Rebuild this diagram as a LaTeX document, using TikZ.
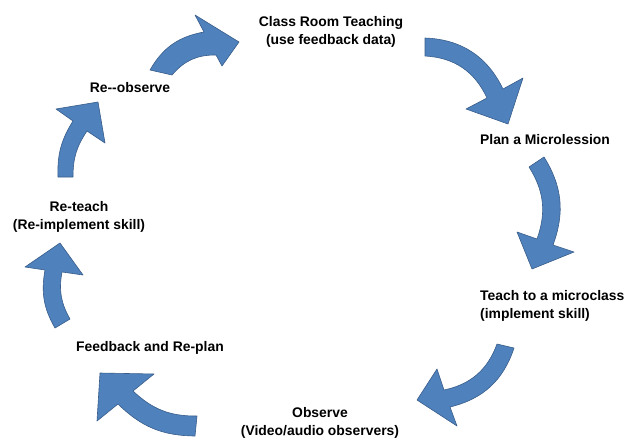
\documentclass[tikz,border=0pt]{standalone}
\usepackage{fontspec}
\setmainfont{Liberation Sans}
\usepackage{tikz}
\usetikzlibrary{positioning}
\definecolor{arrowfill}{RGB}{79,129,189}
\definecolor{arrowline}{RGB}{56,93,138}
\tikzstyle{tnode} = [font=\fontsize{13.9}{18}\selectfont\bfseries, inner sep = 0pt, align=center]
\tikzstyle{barrow} = [fill=arrowfill, draw=arrowline, line width=0.6pt, line join=round]

\begin{document}
\begin{tikzpicture}[x=1pt, y=1pt]
				\useasboundingbox (0,0) rectangle (634,-439);

				\node [tnode] (class) at (331,-31.5) {Class Room Teaching\\ (use feedback data)};
				\node [tnode] (plan) at (545,-140) {Plan a Microlession};
				\node [tnode, anchor=west, align=left] (teach) at (480,-306) {Teach to a microclass\\(implement skill)};
				\node [tnode] (observe) at (320,-423) {Observe\\(Video/audio observers)};
				\node [tnode] (feedback) at (150,-348) {Feedback and Re-plan};
				\node [tnode] (reteach) at (79,-217) {Re-teach\\(Re-implement skill)};
				\node [tnode] (reobserve) at (130,-88) {Re-{}-observe};

				% block arrows round the cycle
				\path [barrow] (150,-70) to[bend left=25] (204,-32) -- (195,-15) -- (239,-42) -- (222,-66) -- (216,-55) to[bend right=25] (172,-75) -- cycle;
				\path [barrow] (425,-38) to[bend left=31] (503,-89) -- (523,-78) -- (508,-124) -- (466,-109) -- (487,-98) to[bend right=31] (425,-56) -- cycle;
				\path [barrow] (544,-157) to[bend left=26] (553,-245) -- (574,-252) -- (532,-269) -- (517,-232) -- (537,-239) to[bend right=26] (529,-167) -- cycle;
				\path [barrow] (514,-348) to[bend left=29] (450,-407) -- (457,-426) -- (417,-400) -- (437,-369) -- (444,-390) to[bend right=29] (497,-344) -- cycle;
				\path [barrow] (195,-436) to[bend left=22] (118,-404) -- (97,-421) -- (100,-373) -- (154,-374) -- (133,-391) to[bend right=22] (197,-416) -- cycle;
				\path [barrow] (55,-328) to[bend left=20] (45,-270) -- (25,-267) -- (60,-243) -- (83,-275) -- (62,-272) to[bend right=20] (70,-319) -- cycle;
				\path [barrow] (58,-177) to[bend left=17] (73,-121) -- (56,-109) -- (98,-102) -- (105,-143) -- (87,-131) to[bend right=17] (73,-177) -- cycle;
			\end{tikzpicture}
\end{document}
